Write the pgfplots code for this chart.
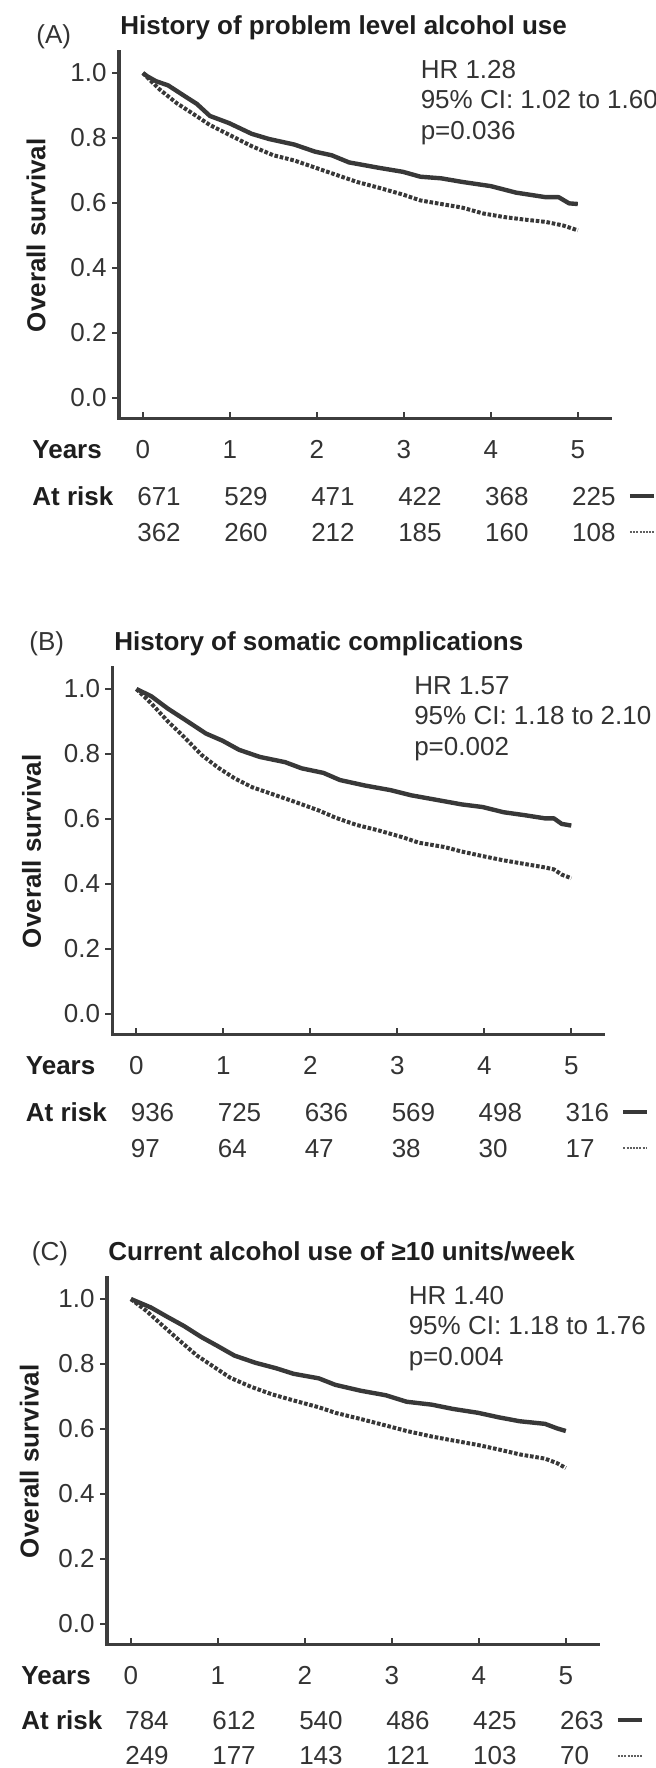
\documentclass[border=0pt]{standalone}
\usepackage{fontspec}
\setmainfont{Liberation Sans}
\usepackage{pgfplots}
\pgfplotsset{compat=1.18}
\definecolor{axgray}{HTML}{3D3D3D}
\definecolor{txt}{HTML}{333333}
\definecolor{bld}{HTML}{1E1E1E}
\definecolor{crv}{HTML}{383838}
\newcommand\fs{\fontsize{13pt}{15.6pt}\selectfont}
\tikzset{
  t/.style={font=\fs, text=txt, inner sep=0pt},
  b/.style={font=\fs\bfseries, text=bld, inner sep=0pt},
  solidc/.style={crv, line width=2.2pt, line join=round},
  dashc/.style={crv, line width=2pt, dash pattern=on 1.8pt off 0.9pt},
  legs/.style={crv, line width=2pt},
  legd/.style={crv!80, line width=1pt, dash pattern=on 1pt off 0.6pt},
}
\pgfplotsset{km/.style={
  scale only axis, width=245.5pt, height=183.3pt,
  xmin=-0.275, xmax=5.37, ymin=-0.063, ymax=1.065,
  axis lines=left,
  axis line style={-, line width=1.7pt, color=axgray, line cap=rect},
  xtick={0,1,2,3,4,5}, xticklabels={},
  ytick={0,0.2,0.4,0.6,0.8,1}, yticklabels={0.0,0.2,0.4,0.6,0.8,1.0},
  tick align=inside, major tick length=3.5pt,
  tick style={line width=1pt, color=axgray},
  ytick style={xshift=-3.5pt},
  yticklabel style={font=\fs, text=txt, xshift=-2.7pt},
  /pgf/number format/assume math mode=true,
  clip=false,
  anchor=north west,
}}
\begin{document}
\begin{tikzpicture}
\useasboundingbox (0,0) rectangle (328pt,-884pt);

% ---------------- Panel A ----------------
\begin{axis}[km, at={(59.5pt,-25.95pt)}]
\addplot[solidc] table {
0 1.0
0.05 0.99
0.15 0.975
0.29 0.962
0.48 0.929
0.62 0.905
0.77 0.868
0.99 0.846
1.25 0.813
1.45 0.797
1.74 0.780
1.98 0.758
2.17 0.747
2.37 0.725
2.70 0.709
2.99 0.696
3.19 0.681
3.43 0.676
3.67 0.665
4.00 0.652
4.29 0.632
4.63 0.618
4.78 0.618
4.90 0.599
5.00 0.597
};
\addplot[dashc] table {
0 1.0
0.19 0.95
0.39 0.907
0.58 0.874
0.77 0.84
0.97 0.813
1.25 0.775
1.50 0.747
1.74 0.731
1.98 0.709
2.22 0.687
2.46 0.665
2.70 0.648
2.99 0.626
3.19 0.608
3.43 0.597
3.67 0.586
3.91 0.568
4.15 0.557
4.39 0.549
4.63 0.542
4.83 0.531
5.00 0.516
};
\node[t, anchor=base west] at (axis cs:3.19,0.984) {HR 1.28};
\node[t, anchor=base west] at (axis cs:3.19,0.891) {95\% CI: 1.02 to 1.60};
\node[t, anchor=base west] at (axis cs:3.19,0.797) {p=0.036};
\node[b, anchor=base west] at ([xshift=0.5pt,yshift=8.85pt]rel axis cs:0,1) {History of problem level alcohol use};
\node[t, anchor=base west] at ([xshift=-41.5pt,yshift=4.35pt]rel axis cs:0,1) {(A)};
\node[b, rotate=90, anchor=center] at ([xshift=-41.5pt]rel axis cs:0,0.5) {Overall survival};
\node[b, anchor=base west] at ([xshift=-43.5pt,yshift=-20.15pt]rel axis cs:0,0) {Years};
\node[t, anchor=base] at ([yshift=-20.15pt]axis cs:0,-0.063) {0};
\node[t, anchor=base] at ([yshift=-20.15pt]axis cs:1,-0.063) {1};
\node[t, anchor=base] at ([yshift=-20.15pt]axis cs:2,-0.063) {2};
\node[t, anchor=base] at ([yshift=-20.15pt]axis cs:3,-0.063) {3};
\node[t, anchor=base] at ([yshift=-20.15pt]axis cs:4,-0.063) {4};
\node[t, anchor=base] at ([yshift=-20.15pt]axis cs:5,-0.063) {5};
\node[b, anchor=base west] at ([xshift=-43.5pt,yshift=-43.4pt]rel axis cs:0,0) {At risk};
\node[t, anchor=base west] at ([xshift=-3pt,yshift=-43.4pt]axis cs:0,-0.063) {671};
\node[t, anchor=base west] at ([xshift=-3pt,yshift=-43.4pt]axis cs:1,-0.063) {529};
\node[t, anchor=base west] at ([xshift=-3pt,yshift=-43.4pt]axis cs:2,-0.063) {471};
\node[t, anchor=base west] at ([xshift=-3pt,yshift=-43.4pt]axis cs:3,-0.063) {422};
\node[t, anchor=base west] at ([xshift=-3pt,yshift=-43.4pt]axis cs:4,-0.063) {368};
\node[t, anchor=base west] at ([xshift=-3pt,yshift=-43.4pt]axis cs:5,-0.063) {225};
\node[t, anchor=base west] at ([xshift=-3pt,yshift=-61.4pt]axis cs:0,-0.063) {362};
\node[t, anchor=base west] at ([xshift=-3pt,yshift=-61.4pt]axis cs:1,-0.063) {260};
\node[t, anchor=base west] at ([xshift=-3pt,yshift=-61.4pt]axis cs:2,-0.063) {212};
\node[t, anchor=base west] at ([xshift=-3pt,yshift=-61.4pt]axis cs:3,-0.063) {185};
\node[t, anchor=base west] at ([xshift=-3pt,yshift=-61.4pt]axis cs:4,-0.063) {160};
\node[t, anchor=base west] at ([xshift=-3pt,yshift=-61.4pt]axis cs:5,-0.063) {108};
\draw[legs] ([xshift=10pt,yshift=-38.75pt]rel axis cs:1,0) -- ++(12pt,0pt);
\draw[legd] ([xshift=10pt,yshift=-56.75pt]rel axis cs:1,0) -- ++(12pt,0pt);
\end{axis}

% ---------------- Panel B ----------------
\begin{axis}[km, at={(56.25pt,-333.95pt)}]
\addplot[solidc] table {
0 1.0
0.17 0.978
0.36 0.940
0.55 0.907
0.80 0.863
0.99 0.841
1.18 0.813
1.42 0.791
1.71 0.775
1.90 0.756
2.15 0.742
2.34 0.720
2.63 0.703
2.92 0.689
3.16 0.673
3.45 0.659
3.74 0.645
3.98 0.637
4.22 0.621
4.46 0.612
4.70 0.602
4.80 0.602
4.89 0.585
5.00 0.580
};
\addplot[dashc] table {
0 1.0
0.17 0.956
0.36 0.901
0.55 0.852
0.75 0.797
0.94 0.758
1.13 0.725
1.33 0.698
1.57 0.676
1.81 0.654
2.10 0.626
2.29 0.604
2.53 0.582
2.77 0.566
3.06 0.544
3.25 0.527
3.54 0.514
3.74 0.500
3.98 0.486
4.22 0.473
4.46 0.462
4.70 0.451
4.80 0.445
4.89 0.429
5.00 0.418
};
\node[t, anchor=base west] at (axis cs:3.19,0.984) {HR 1.57};
\node[t, anchor=base west] at (axis cs:3.19,0.891) {95\% CI: 1.18 to 2.10};
\node[t, anchor=base west] at (axis cs:3.19,0.797) {p=0.002};
\node[b, anchor=base west] at ([xshift=0.75pt,yshift=8.85pt]rel axis cs:0,1) {History of somatic complications};
\node[t, anchor=base west] at ([xshift=-41.75pt,yshift=8.85pt]rel axis cs:0,1) {(B)};
\node[b, rotate=90, anchor=center] at ([xshift=-40.5pt]rel axis cs:0,0.5) {Overall survival};
\node[b, anchor=base west] at ([xshift=-43.5pt,yshift=-20.15pt]rel axis cs:0,0) {Years};
\node[t, anchor=base] at ([yshift=-20.15pt]axis cs:0,-0.063) {0};
\node[t, anchor=base] at ([yshift=-20.15pt]axis cs:1,-0.063) {1};
\node[t, anchor=base] at ([yshift=-20.15pt]axis cs:2,-0.063) {2};
\node[t, anchor=base] at ([yshift=-20.15pt]axis cs:3,-0.063) {3};
\node[t, anchor=base] at ([yshift=-20.15pt]axis cs:4,-0.063) {4};
\node[t, anchor=base] at ([yshift=-20.15pt]axis cs:5,-0.063) {5};
\node[b, anchor=base west] at ([xshift=-43.5pt,yshift=-43.4pt]rel axis cs:0,0) {At risk};
\node[t, anchor=base west] at ([xshift=-3pt,yshift=-43.4pt]axis cs:0,-0.063) {936};
\node[t, anchor=base west] at ([xshift=-3pt,yshift=-43.4pt]axis cs:1,-0.063) {725};
\node[t, anchor=base west] at ([xshift=-3pt,yshift=-43.4pt]axis cs:2,-0.063) {636};
\node[t, anchor=base west] at ([xshift=-3pt,yshift=-43.4pt]axis cs:3,-0.063) {569};
\node[t, anchor=base west] at ([xshift=-3pt,yshift=-43.4pt]axis cs:4,-0.063) {498};
\node[t, anchor=base west] at ([xshift=-3pt,yshift=-43.4pt]axis cs:5,-0.063) {316};
\node[t, anchor=base west] at ([xshift=-3pt,yshift=-61.4pt]axis cs:0,-0.063) {97};
\node[t, anchor=base west] at ([xshift=-3pt,yshift=-61.4pt]axis cs:1,-0.063) {64};
\node[t, anchor=base west] at ([xshift=-3pt,yshift=-61.4pt]axis cs:2,-0.063) {47};
\node[t, anchor=base west] at ([xshift=-3pt,yshift=-61.4pt]axis cs:3,-0.063) {38};
\node[t, anchor=base west] at ([xshift=-3pt,yshift=-61.4pt]axis cs:4,-0.063) {30};
\node[t, anchor=base west] at ([xshift=-3pt,yshift=-61.4pt]axis cs:5,-0.063) {17};
\draw[legs] ([xshift=10pt,yshift=-38.75pt]rel axis cs:1,0) -- ++(12pt,0pt);
\draw[legd] ([xshift=10pt,yshift=-56.75pt]rel axis cs:1,0) -- ++(12pt,0pt);
\end{axis}

% ---------------- Panel C ----------------
\begin{axis}[km, at={(53.5pt,-638.95pt)}]
\addplot[solidc] table {
0 1.0
0.23 0.974
0.42 0.945
0.61 0.917
0.81 0.883
1.00 0.855
1.19 0.826
1.43 0.804
1.67 0.787
1.87 0.770
2.16 0.756
2.35 0.736
2.64 0.718
2.93 0.704
3.17 0.684
3.46 0.675
3.70 0.662
3.99 0.650
4.23 0.636
4.47 0.624
4.76 0.616
4.90 0.602
5.00 0.594
};
\addplot[dashc] table {
0 1.0
0.18 0.963
0.37 0.917
0.56 0.872
0.76 0.826
0.95 0.792
1.14 0.758
1.38 0.730
1.62 0.707
1.87 0.688
2.16 0.667
2.35 0.650
2.64 0.631
2.93 0.611
3.17 0.594
3.46 0.577
3.70 0.565
3.99 0.551
4.23 0.537
4.47 0.522
4.76 0.509
4.90 0.495
5.00 0.480
};
\node[t, anchor=base west] at (axis cs:3.19,0.984) {HR 1.40};
\node[t, anchor=base west] at (axis cs:3.19,0.891) {95\% CI: 1.18 to 1.76};
\node[t, anchor=base west] at (axis cs:3.19,0.797) {p=0.004};
\node[b, anchor=base west] at ([xshift=0.5pt,yshift=8.85pt]rel axis cs:0,1) {Current alcohol use of ≥10 units/week};
\node[t, anchor=base west] at ([xshift=-37.75pt,yshift=8.85pt]rel axis cs:0,1) {(C)};
\node[b, rotate=90, anchor=center] at ([xshift=-38.8pt]rel axis cs:0,0.5) {Overall survival};
\node[b, anchor=base west] at ([xshift=-43pt,yshift=-19.9pt]rel axis cs:0,0) {Years};
\node[t, anchor=base] at ([yshift=-19.9pt]axis cs:0,-0.063) {0};
\node[t, anchor=base] at ([yshift=-19.9pt]axis cs:1,-0.063) {1};
\node[t, anchor=base] at ([yshift=-19.9pt]axis cs:2,-0.063) {2};
\node[t, anchor=base] at ([yshift=-19.9pt]axis cs:3,-0.063) {3};
\node[t, anchor=base] at ([yshift=-19.9pt]axis cs:4,-0.063) {4};
\node[t, anchor=base] at ([yshift=-19.9pt]axis cs:5,-0.063) {5};
\node[b, anchor=base west] at ([xshift=-43pt,yshift=-42.6pt]rel axis cs:0,0) {At risk};
\node[t, anchor=base west] at ([xshift=-3pt,yshift=-42.6pt]axis cs:0,-0.063) {784};
\node[t, anchor=base west] at ([xshift=-3pt,yshift=-42.6pt]axis cs:1,-0.063) {612};
\node[t, anchor=base west] at ([xshift=-3pt,yshift=-42.6pt]axis cs:2,-0.063) {540};
\node[t, anchor=base west] at ([xshift=-3pt,yshift=-42.6pt]axis cs:3,-0.063) {486};
\node[t, anchor=base west] at ([xshift=-3pt,yshift=-42.6pt]axis cs:4,-0.063) {425};
\node[t, anchor=base west] at ([xshift=-3pt,yshift=-42.6pt]axis cs:5,-0.063) {263};
\node[t, anchor=base west] at ([xshift=-3pt,yshift=-60.2pt]axis cs:0,-0.063) {249};
\node[t, anchor=base west] at ([xshift=-3pt,yshift=-60.2pt]axis cs:1,-0.063) {177};
\node[t, anchor=base west] at ([xshift=-3pt,yshift=-60.2pt]axis cs:2,-0.063) {143};
\node[t, anchor=base west] at ([xshift=-3pt,yshift=-60.2pt]axis cs:3,-0.063) {121};
\node[t, anchor=base west] at ([xshift=-3pt,yshift=-60.2pt]axis cs:4,-0.063) {103};
\node[t, anchor=base west] at ([xshift=-3pt,yshift=-60.2pt]axis cs:5,-0.063) {70};
\draw[legs] ([xshift=10pt,yshift=-37.95pt]rel axis cs:1,0) -- ++(12pt,0pt);
\draw[legd] ([xshift=10pt,yshift=-55.55pt]rel axis cs:1,0) -- ++(12pt,0pt);
\end{axis}
\end{tikzpicture}
\end{document}
